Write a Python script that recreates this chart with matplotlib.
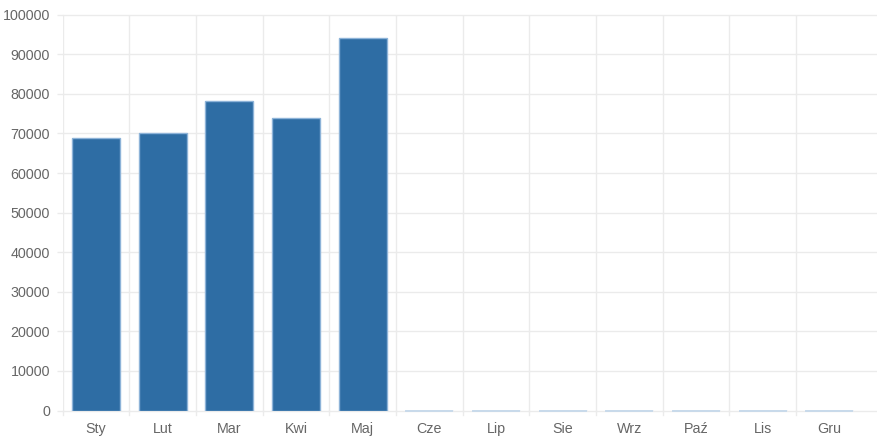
import numpy as np
import matplotlib.pyplot as plt

# Monthly values (Polish month abbreviations)
months = ["Sty", "Lut", "Mar", "Kwi", "Maj", "Cze", "Lip", "Sie", "Wrz", "Paź", "Lis", "Gru"]
values = [68850, 70110, 78200, 73900, 94110, 0, 0, 0, 0, 0, 0, 0]
y_ticks = [0, 10000, 20000, 30000, 40000, 50000, 60000, 70000, 80000, 90000, 100000]

plt.rcParams['font.family'] = ['Liberation Sans', 'DejaVu Sans']

W, H = 878, 438
fig = plt.figure(figsize=(W / 100, H / 100), dpi=100)

# plot area in pixels
left, right = 62.7, 877.5
top, bottom = 14.7, 410.5
ax = fig.add_axes([left / W, 1 - bottom / H, (right - left) / W, (bottom - top) / H])

grid_color = '#ebebeb'
text_color = '#666666'
bar_color = '#2e6da4'
edge_color = '#8db3d8'

x = np.arange(len(months))
bw = 0.72
ax.bar(x, values, width=bw, color=bar_color, edgecolor=edge_color, linewidth=1.0, zorder=3)

# empty months still show their border line along the baseline
for xi, v in zip(x, values):
    if v == 0:
        ax.plot([xi - bw / 2, xi + bw / 2], [0, 0], color='#c3d7ea', linewidth=1.2,
                zorder=4, clip_on=False, solid_capstyle='butt')

# category area covers 12 slots of ~66.7px, horizontal grid runs a bit further
slot = (862.7 - left) / len(months)
ax.set_xlim(-0.5, -0.5 + (right - left) / slot)
ax.set_ylim(0, 100000)

ax.set_yticks(y_ticks)
ax.set_yticklabels([str(v) for v in y_ticks])
ax.set_xticks(x)
ax.set_xticklabels(months)

# grid lines
for yt in y_ticks:
    ax.axhline(yt, color=grid_color, linewidth=1, zorder=1, clip_on=False)
for k in range(len(months)):
    ax.axvline(k - 0.5, color=grid_color, linewidth=1, zorder=1)
    ax.plot([k - 0.5, k - 0.5], [0, -0.0125], color=grid_color, linewidth=1,
            transform=ax.get_xaxis_transform(), clip_on=False)

for s in ax.spines.values():
    s.set_visible(False)

ax.tick_params(axis='y', length=4, width=1, color=grid_color, pad=5,
               labelcolor=text_color, labelsize=10.3)
ax.tick_params(axis='x', length=0, pad=8, labelcolor=text_color, labelsize=10.3)

fig.savefig('out.png', dpi=100)
